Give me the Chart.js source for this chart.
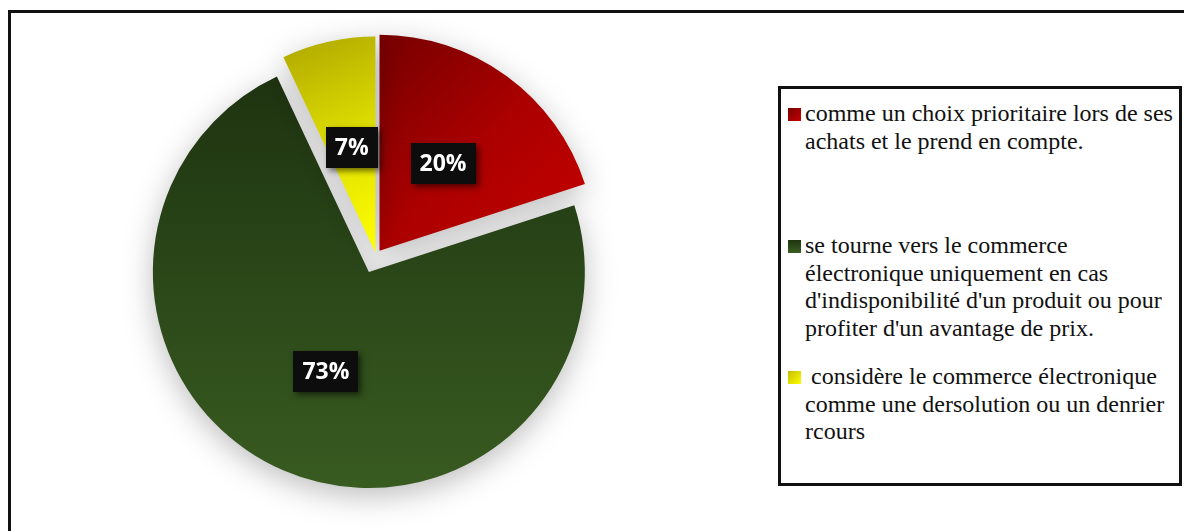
<!DOCTYPE html>
<html lang="fr">
<head>
<meta charset="utf-8">
<title>Attitude face au commerce électronique</title>
<script src="https://cdn.jsdelivr.net/npm/chart.js@4.4.1/dist/chart.umd.min.js"></script>
<style>
    html, body { margin: 0; padding: 0; background: #fff; }
    #stage { position: relative; width: 1184px; height: 531px; overflow: hidden; }
    #frame {
        position: absolute; left: 8px; top: 10px; right: -20px; bottom: -20px;
        border-left: 3px solid #111; border-top: 3px solid #111;
    }
    #pie { position: absolute; left: 0; top: 0; }
    #legend {
        position: absolute; left: 778px; top: 86px; width: 404px; height: 400px;
        box-sizing: border-box; border: 3px solid #111; background: #fff;
    }
    .entry {
        position: absolute; left: 24px;
        font-family: "Liberation Serif", "Times New Roman", serif;
        font-size: 24px; line-height: 27.5px; color: #111; white-space: nowrap;
    }
    .swatch { position: absolute; left: 7px; width: 13px; height: 13px; }
</style>
</head>
<body>
<div id="stage">
    <div id="frame"></div>
    <canvas id="pie" width="1184" height="531"></canvas>
    <div id="legend"></div>
</div>
<script>
// Répartition des réponses (en %)
const categories = [
    ['comme un choix prioritaire lors de ses', 'achats et le prend en compte.'],
    ['se tourne vers le commerce', 'électronique uniquement en cas', "d'indisponibilité d'un produit ou pour", "profiter d'un avantage de prix."],
    ['\u00a0considère le commerce électronique', 'comme une dersolution ou un denrier', 'rcours']
];
const shares = [20, 73, 7];

// dégradés : [foncé, milieu, clair]
const sliceColors = [
    ['#760000', '#ab0000', '#c60000'],
    ['#1e3310', '#2b4819', '#385b20'],
    ['#aea600', '#dede00', '#ffff00']
];
const swatchCss = [
    'linear-gradient(135deg, #760000, #c80000)',
    'linear-gradient(180deg, #1f3511, #3a5d22)',
    'linear-gradient(135deg, #c4bc00, #ffff00)'
];
const verticalFill = [false, true, false];
const sliceShift = [6, 18, 3];   // px each slice is pulled out along its mid angle
const pieRadius = 216;
const entryTops = [11, 143, 274];

// bounding box of one slice, used to stretch its gradient
function sliceBounds(cx, cy, i) {
    const total = shares.reduce((a, b) => a + b, 0);
    const before = shares.slice(0, i).reduce((a, b) => a + b, 0);
    const a0 = -Math.PI / 2 + before / total * 2 * Math.PI;
    const a1 = a0 + shares[i] / total * 2 * Math.PI;
    const pts = [[cx, cy],
        [cx + Math.cos(a0) * pieRadius, cy + Math.sin(a0) * pieRadius],
        [cx + Math.cos(a1) * pieRadius, cy + Math.sin(a1) * pieRadius]];
    for (let k = -4; k <= 4; k++) {
        const a = k * Math.PI / 2;
        if (a > a0 && a < a1) pts.push([cx + Math.cos(a) * pieRadius, cy + Math.sin(a) * pieRadius]);
    }
    const xs = pts.map(p => p[0]), ys = pts.map(p => p[1]);
    return { minX: Math.min(...xs), maxX: Math.max(...xs), minY: Math.min(...ys), maxY: Math.max(...ys) };
}

function sliceFill(context) {
    const chart = context.chart;
    const area = chart.chartArea;
    const i = context.dataIndex;
    const stops = sliceColors[i];
    if (!area) return stops[1];
    const cx = (area.left + area.right) / 2;
    const cy = (area.top + area.bottom) / 2;
    const b = sliceBounds(cx, cy, i);
    const g = verticalFill[i]
        ? chart.ctx.createLinearGradient(0, b.minY, 0, b.maxY)
        : chart.ctx.createLinearGradient(b.minX, b.minY, b.maxX, b.maxY);
    g.addColorStop(0, stops[0]);
    g.addColorStop(0.5, stops[1]);
    g.addColorStop(1, stops[2]);
    return g;
}

// point at half radius of a pulled-out slice
function labelPoint(arc, i) {
    const mid = (arc.startAngle + arc.endAngle) / 2;
    const d = sliceShift[i] + arc.outerRadius / 2;
    return { x: arc.x + Math.cos(mid) * d, y: arc.y + Math.sin(mid) * d };
}

// Chart.js' own offset grows the radius of slices wider than 180°,
// so the slices are translated by hand instead
const explode = {
    id: 'explode',
    beforeDatasetsDraw(chart) {
        chart.getDatasetMeta(0).data.forEach((arc, i) => {
            if (arc._shifted) return;
            const draw = arc.draw;
            arc.draw = function (ctx, area) {
                const mid = (this.startAngle + this.endAngle) / 2;
                ctx.save();
                ctx.translate(Math.cos(mid) * sliceShift[i], Math.sin(mid) * sliceShift[i]);
                draw.call(this, ctx, area);
                ctx.restore();
            };
            arc._shifted = true;
        });
    }
};

const pieShadow = {
    id: 'pieShadow',
    beforeDatasetsDraw(chart) {
        const ctx = chart.ctx;
        ctx.save();
        ctx.shadowColor = 'rgba(0, 0, 0, 0.26)';
        ctx.shadowBlur = 30;
        ctx.shadowOffsetY = 8;
    },
    afterDatasetsDraw(chart) {
        chart.ctx.restore();
    }
};

const valueBoxes = {
    id: 'valueBoxes',
    afterDraw(chart) {
        const ctx = chart.ctx;
        const meta = chart.getDatasetMeta(0);
        ctx.save();
        ctx.font = '700 23px "Open Sans", sans-serif';
        ctx.textAlign = 'center';
        ctx.textBaseline = 'middle';
        meta.data.forEach((arc, i) => {
            const p = labelPoint(arc, i);
            const text = shares[i] + '%';
            const w = Math.round(ctx.measureText(text).width + 18);
            const h = 41;
            ctx.shadowColor = 'rgba(0, 0, 0, 0.55)';
            ctx.shadowBlur = 6;
            ctx.shadowOffsetX = 3;
            ctx.shadowOffsetY = 3;
            ctx.fillStyle = '#0d0d0d';
            ctx.fillRect(Math.round(p.x - w / 2), Math.round(p.y - h / 2), w, h);
            ctx.shadowColor = 'transparent';
            ctx.fillStyle = '#ffffff';
            ctx.fillText(text, p.x, p.y + 1);
        });
        ctx.restore();
    }
};

new Chart(document.getElementById('pie'), {
    type: 'pie',
    data: {
        labels: categories,
        datasets: [{
            data: shares,
            backgroundColor: sliceFill,
            borderWidth: 0,
            offset: 0,
            radius: pieRadius
        }]
    },
    options: {
        responsive: false,
        animation: false,
        layout: { padding: { left: 0, right: 432, top: 0, bottom: 20 } },
        plugins: {
            legend: { display: false },
            tooltip: { enabled: false }
        }
    },
    plugins: [explode, pieShadow, valueBoxes]
});

// legend box on the right
const legend = document.getElementById('legend');
categories.forEach((lines, i) => {
    const sw = document.createElement('div');
    sw.className = 'swatch';
    sw.style.top = (entryTops[i] + 8) + 'px';
    sw.style.background = swatchCss[i];
    legend.appendChild(sw);
    const entry = document.createElement('div');
    entry.className = 'entry';
    entry.style.top = entryTops[i] + 'px';
    entry.innerHTML = lines.join('<br>');
    legend.appendChild(entry);
});
</script>
</body>
</html>
